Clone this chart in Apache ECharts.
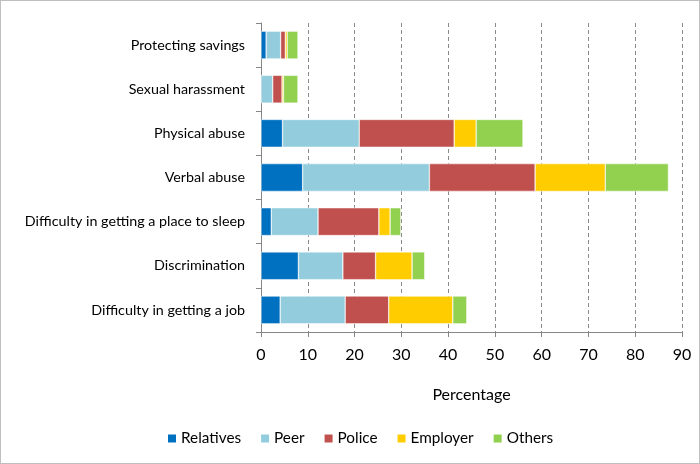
<!DOCTYPE html>
<html><head><meta charset="utf-8">
<script src="https://cdn.jsdelivr.net/npm/echarts@6/dist/echarts.min.js"></script>
<style>
html,body{margin:0;padding:0;background:#fff;}
#c{width:698px;height:462px;border:1px solid #bfbfbf;}
</style></head>
<body><div id="c"></div>
<script>
const categories = ["Difficulty in getting a job","Discrimination","Difficulty in getting a place to sleep","Verbal abuse","Physical abuse","Sexual harassment","Protecting savings"];
const relatives = [4.1, 8.0, 2.2, 8.9, 4.6, 0, 1.1];
const peer      = [13.9, 9.5, 10.0, 27.1, 16.4, 2.5, 3.1];
const police    = [9.3, 7.0, 13.0, 22.6, 20.3, 2.0, 1.0];
const employer  = [13.7, 7.8, 2.4, 15.0, 4.7, 0.3, 0.4];
const others    = [3.0, 2.7, 2.3, 13.5, 10.0, 3.1, 2.3];
const xTicks = {min:0, max:90, interval:10};
const names = ["Relatives","Peer","Police","Employer","Others"];
const colors = ["#0070C0","#93CDDD","#C0504D","#FFCC00","#92D050"];
const values = [relatives, peer, police, employer, others];
const font = "Lato, 'Open Sans', sans-serif";
const chart = echarts.init(document.getElementById('c'));
chart.setOption({
  animation:false,
  textStyle:{fontFamily:font},
  grid:{left:260, right:17, top:22, bottom:131, containLabel:false},
  legend:{bottom:12, left:160, itemWidth:10, itemHeight:10, itemGap:18,
    icon:'rect', textStyle:{fontSize:15.3, color:'#000', fontFamily:font, padding:[0,0,0,-1]},
    data:names},
  xAxis:{type:'value', min:xTicks.min, max:xTicks.max, interval:xTicks.interval,
    name:'Percentage', nameLocation:'middle', nameGap:55,
    nameTextStyle:{fontSize:16, color:'#000', fontFamily:font},
    axisLine:{show:true, lineStyle:{color:'#868686'}},
    axisTick:{show:true, length:5, lineStyle:{color:'#868686'}},
    axisLabel:{fontSize:16, color:'#000', margin:15, fontFamily:font},
    splitLine:{show:true, lineStyle:{color:'#8a8a8a', type:[4,3]}}},
  yAxis:{type:'category', data:categories,
    axisLine:{show:true, lineStyle:{color:'#868686'}},
    axisTick:{show:true, length:5, lineStyle:{color:'#868686'}},
    axisLabel:{fontSize:14.3, color:'#000', margin:16, fontFamily:font}},
  series: names.map((n,i)=>({name:n, type:'bar', stack:'total', data:values[i],
    barCategoryGap:'37%', itemStyle:{color:colors[i], borderColor:'#fff', borderWidth:0.5}}))
});
</script></body></html>
